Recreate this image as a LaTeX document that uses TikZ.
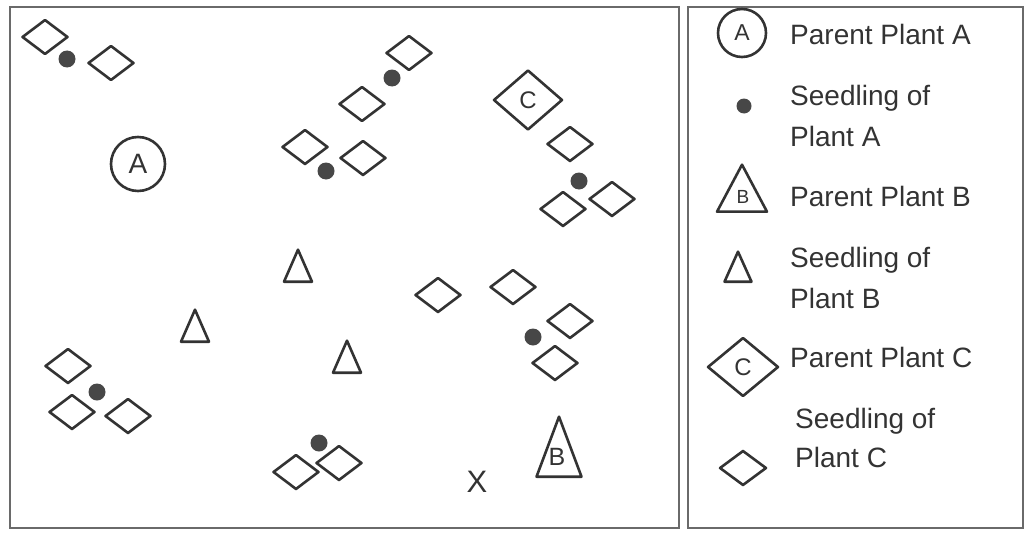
\documentclass[tikz,border=0pt]{standalone}
\usepackage{fontspec}
\setmainfont{Liberation Sans}
\usepackage{xcolor}
\usepackage{tikz}
\usetikzlibrary{positioning,shapes.geometric}

\definecolor{ink}{HTML}{333333}
\definecolor{dotgray}{HTML}{474747}
\definecolor{framegray}{HTML}{6A6A6A}

\begin{document}
\begin{tikzpicture}[
    x=1pt, y=-1pt,
    every node/.style={inner sep=0pt, text=ink},
    plantline/.style={draw=ink, line width=2.6pt, line join=round},
    parentA/.style={plantline, circle, minimum size=54pt, font=\fontsize{28}{30}\selectfont},
    seedA/.style={circle, fill=dotgray, minimum size=17pt},
    parentB/.style={plantline, isosceles triangle, isosceles triangle stretches, shape border rotate=90, minimum width=45pt, minimum height=60pt, anchor=south},
    seedB/.style={plantline, isosceles triangle, isosceles triangle stretches, shape border rotate=90, minimum width=28pt, minimum height=32pt, anchor=south},
    parentC/.style={plantline, diamond, minimum width=69pt, minimum height=60pt, font=\fontsize{24}{26}\selectfont},
    seedC/.style={plantline, diamond, minimum width=46pt, minimum height=35pt},
    letter/.style={font=\fontsize{25}{27}\selectfont},
    legtext/.style={anchor=west, align=left, font=\fontsize{28}{41}\selectfont},
    frame/.style={draw=framegray, line width=1.8pt}
]
\useasboundingbox (0,0) rectangle (1027,535);

% Frames
\draw[frame] (10,7) rectangle (679,528);
\draw[frame] (688,7) rectangle (1023,528);

% Parent plants
\node[parentA] (pA) at (138,164) {A};
\node[parentC] (pC) at (528,100) {C};
\node[parentB] (pB) at (559,478) {};
\node[letter] (pBl) at (557,457) {B};
\node[font=\fontsize{31}{33}\selectfont] (x) at (477,482) {X};

% Seedlings of plant A
\node[seedA] (a1) at (67,59) {};
\node[seedA] (a2) at (392,78) {};
\node[seedA] (a3) at (326,171) {};
\node[seedA] (a4) at (579,181) {};
\node[seedA] (a5) at (533,337) {};
\node[seedA] (a6) at (97,392) {};
\node[seedA] (a7) at (319,443) {};

% Seedlings of plant B (placed by base)
\node[seedB] (b1) at (298,283) {};
\node[seedB] (b2) at (195,343) {};
\node[seedB] (b3) at (347,374) {};

% Seedlings of plant C
\node[seedC] (c1) at (45,37) {};
\node[seedC] (c2) at (111,63) {};
\node[seedC] (c3) at (409,53) {};
\node[seedC] (c4) at (362,104) {};
\node[seedC] (c5) at (305,147) {};
\node[seedC] (c6) at (363,158) {};
\node[seedC] (c7) at (570,144) {};
\node[seedC] (c8) at (563,209) {};
\node[seedC] (c9) at (612,199) {};
\node[seedC] (c10) at (438,295) {};
\node[seedC] (c11) at (513,287) {};
\node[seedC] (c12) at (570,321) {};
\node[seedC] (c13) at (555,363) {};
\node[seedC] (c14) at (68,366) {};
\node[seedC] (c15) at (72,412) {};
\node[seedC] (c16) at (128,416) {};
\node[seedC] (c17) at (296,472) {};
\node[seedC] (c18) at (339,463) {};

% Legend symbols
\node[parentA, minimum size=48pt, font=\fontsize{23}{25}\selectfont] (kA) at (742,33) {A};
\node[seedA, minimum size=15pt] (ka) at (744,106) {};
\node[parentB, minimum width=50pt, minimum height=47pt] (kB) at (742,213) {};
\node[letter, font=\fontsize{19}{21}\selectfont] (kBl) at (743,197) {B};
\node[seedB, minimum width=27pt, minimum height=30pt] (kb) at (738,283) {};
\node[parentC, minimum width=71pt, minimum height=59pt] (kC) at (743,367) {C};
\node[seedC, minimum width=47pt] (kc) at (743,468) {};

% Legend texts
\node[legtext] (tA) at (790,34) {Parent Plant A};
\node[legtext] (ta) at (790,116) {Seedling of\\Plant A};
\node[legtext] (tB) at (790,196) {Parent Plant B};
\node[legtext] (tb) at (790,278) {Seedling of\\Plant B};
\node[legtext] (tC) at (790,357) {Parent Plant C};
\node[legtext, font=\fontsize{28}{39}\selectfont] (tc) at (795,438) {Seedling of\\Plant C};
\end{tikzpicture}
\end{document}
